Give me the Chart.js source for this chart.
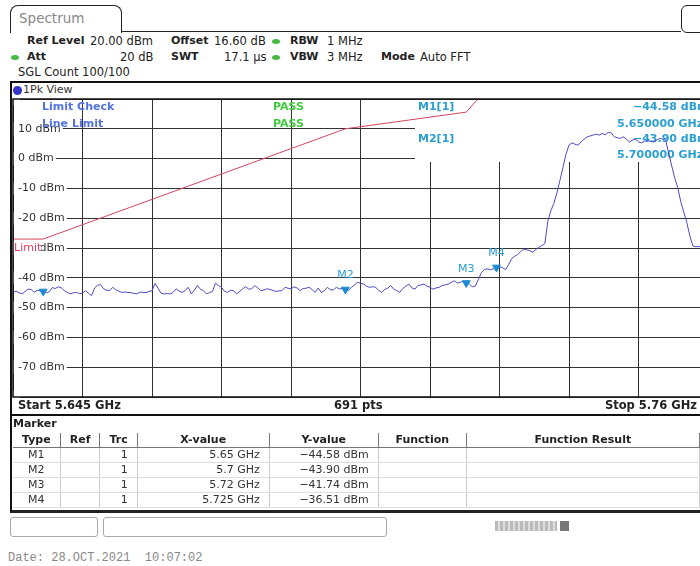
<!DOCTYPE html>
<html lang="en">
<head>
<meta charset="UTF-8">
<title>Spectrum</title>
<script src="https://cdn.jsdelivr.net/npm/chart.js"></script>
<style>
  html, body { margin: 0; padding: 0; background: #fff; overflow: hidden; width: 700px; height: 566px; }
  body { position: relative; font-family: "DejaVu Sans", Verdana, sans-serif; font-size: 11.5px; color: #222; }
  .abs { position: absolute; white-space: nowrap; line-height: 14px; }
  .b { font-weight: bold; font-size: 11px; }
  .dot { position: absolute; width: 8px; height: 5px; border-radius: 50%; background: #46b946; }
  #tab { left: 10px; top: 5px; width: 110px; height: 27px; border: 1.5px solid #222; border-bottom: none; border-radius: 8px 8px 0 0; }
  #tab span { position: absolute; left: 8px; top: 5px; font-size: 13.5px; color: #888; }
  #tabline { left: 121px; top: 31px; width: 560px; border-top: 1.5px solid #222; }
  #icon { left: 681px; top: 5px; width: 30px; height: 26px; border: 1.5px solid #222; border-radius: 6px; }
  #frame { left: 10px; top: 81px; width: 720px; height: 331px; border-top: 2px solid #111; border-left: 2px solid #111; border-bottom: 2px solid #111; }
  #frame2 { left: 10px; top: 414px; width: 720px; height: 96px; border-left: 2px solid #111; border-bottom: 3px solid #222; }
  #wrap { position: absolute; left: 11px; top: 97px; width: 697px; height: 302px; }
  table { position: absolute; left: 13px; top: 433px; border-collapse: collapse; table-layout: fixed; font-size: 11px; }
  th, td { height: 14px; padding: 0 9px; line-height: 14px; white-space: nowrap; }
  th { border-right: 1px solid #777; border-bottom: 1px solid #777; text-align: center; }
  td { border-right: 1px solid #ccc; border-bottom: 1px solid #ddd; text-align: right; color: #333; }
  td.c { text-align: center; }
  .box { position: absolute; top: 517px; height: 18px; border: 1px solid #aaa; border-radius: 3px; }
</style>
</head>
<body>
  <div id="tab" class="abs"><span>Spectrum</span></div>
  <div id="tabline" class="abs"></div>
  <div id="icon" class="abs"></div>

  <!-- instrument settings -->
  <span class="abs b" style="left:27px;top:34px">Ref Level</span>
  <span class="abs" style="left:90px;top:34px">20.00 dBm</span>
  <span class="abs b" style="left:171px;top:34px">Offset</span>
  <span class="abs" style="left:214px;top:34px">16.60 dB</span>
  <div class="dot" style="left:272px;top:39px"></div>
  <span class="abs b" style="left:290px;top:34px">RBW</span>
  <span class="abs" style="left:327px;top:34px">1 MHz</span>

  <div class="dot" style="left:11px;top:55px"></div>
  <span class="abs b" style="left:27px;top:50px">Att</span>
  <span class="abs" style="left:120px;top:50px">20 dB</span>
  <span class="abs b" style="left:171px;top:50px">SWT</span>
  <span class="abs" style="left:224px;top:50px">17.1 µs</span>
  <div class="dot" style="left:272px;top:55px"></div>
  <span class="abs b" style="left:290px;top:50px">VBW</span>
  <span class="abs" style="left:327px;top:50px">3 MHz</span>
  <span class="abs b" style="left:381px;top:50px">Mode</span>
  <span class="abs" style="left:420px;top:50px">Auto FFT</span>

  <span class="abs" style="left:18px;top:65px">SGL Count 100/100</span>

  <div id="frame" class="abs"></div>
  <div class="abs" style="left:13px;top:86px;width:9px;height:9px;border-radius:50%;background:#3434c8"></div>
  <span class="abs" style="left:23px;top:83px;font-size:11px;color:#333">1Pk View</span>

  <div id="wrap"><canvas id="spec"></canvas></div>

  <span class="abs b" style="left:18px;top:398px;font-size:11.5px">Start 5.645 GHz</span>
  <span class="abs b" style="left:334px;top:398px;font-size:11.5px">691 pts</span>
  <span class="abs b" style="right:3px;top:398px;font-size:11.5px">Stop 5.76 GHz</span>

  <div id="frame2" class="abs"></div>
  <span class="abs b" style="left:13px;top:417px">Marker</span>
  <table id="markerTable">
    <colgroup>
      <col style="width:47px"><col style="width:32px"><col style="width:36px">
      <col style="width:140px"><col style="width:112px"><col style="width:90px"><col style="width:250px">
    </colgroup>
    <thead>
      <tr><th>Type</th><th>Ref</th><th>Trc</th><th>X-value</th><th>Y-value</th><th>Function</th><th>Function Result</th></tr>
    </thead>
    <tbody></tbody>
  </table>

  <div class="box" style="left:10px;width:86px"></div>
  <div class="box" style="left:103px;width:282px"></div>
  <div class="abs" style="left:495px;top:521px;width:62px;height:10px;background:repeating-linear-gradient(90deg,#bbb 0 3px,#ddd 3px 5px)"></div>
  <div class="abs" style="left:560px;top:521px;width:9px;height:10px;background:#777"></div>

  <span class="abs" style="left:8px;top:551px;font-family:'Liberation Mono',monospace;font-size:12px;color:#888;white-space:pre">Date: 28.OCT.2021  10:07:02</span>

<script>
// sweep: 5.645 GHz .. 5.76 GHz, trace read every 0.5 MHz
const START_MHZ = 5645;
const STOP_MHZ = 5760;
const STEP_MHZ = 0.5;
const traceDbm = [
  -44.9, -44.5, -45.0, -45.4, -44.6, -43.8, -43.9, -44.9, -44.2, -44.4,
  -44.58, -45.0, -44.7, -43.3, -43.6, -43.0, -43.4, -44.3, -44.9, -45.4,
  -45.0, -44.9, -45.3, -45.2, -44.3, -45.2, -46.0, -43.4, -42.5, -42.3,
  -43.7, -44.2, -44.3, -43.2, -44.0, -44.5, -44.9, -44.8, -44.9, -45.0,
  -45.2, -45.4, -44.8, -44.9, -45.0, -44.6, -44.3, -41.9, -43.5, -45.2,
  -45.4, -45.3, -45.4, -44.9, -43.7, -44.5, -44.9, -44.3, -43.2, -45.4,
  -44.2, -42.6, -43.8, -44.3, -45.4, -45.0, -44.6, -41.8, -42.6, -43.2,
  -44.5, -44.9, -44.2, -44.3, -45.4, -44.6, -43.7, -43.0, -43.8, -43.7,
  -42.6, -43.4, -44.3, -44.1, -43.7, -43.9, -44.2, -44.6, -44.4, -44.3,
  -43.2, -43.5, -43.7, -43.0, -43.4, -44.3, -43.6, -43.5, -43.2, -44.0,
  -44.9, -43.4, -44.9, -44.4, -43.2, -44.0, -44.1, -43.2, -43.7, -43.6,
  -43.9, -44.3, -43.2, -42.4, -41.5, -41.8, -42.1, -42.8, -43.2, -43.0,
  -43.2, -44.2, -44.9, -43.9, -43.5, -42.6, -43.8, -44.3, -44.9, -43.6,
  -42.8, -42.1, -43.4, -43.8, -42.6, -42.4, -42.1, -42.8, -43.2, -43.8,
  -43.4, -43.2, -42.6, -42.4, -42.1, -41.6, -41.0, -41.8, -41.5, -41.2,
  -41.74, -42.1, -43.0, -42.8, -40.6, -38.3, -37.2, -37.0, -37.3, -37.0,
  -36.51, -36.3, -36.6, -37.3, -35.6, -33.6, -32.8, -32.2, -31.2, -30.4,
  -30.6, -30.9, -31.4, -30.5, -29.8, -29.2, -28.5, -21.0, -17.5, -15.0,
  -11.5, -7.3, -3.0, 1.5, 4.5, 5.3, 4.8, 4.5, 5.6, 6.5,
  7.3, 7.6, 7.9, 8.2, 7.9, 8.4, 8.0, 8.8, 8.6, 7.3,
  7.0, 6.8, 7.3, 6.5, 5.6, 6.2, 6.5, 5.6, 5.3, 5.8,
  6.0, 5.8, 5.6, 6.2, 6.8, 6.5, 6.2, 1.7, -2.5, -6.5,
  -9.8, -14.5, -18.0, -21.5, -26.0, -29.3, -29.6, -29.5, -29.7, -29.6,
  -29.7
];

// limit line (MHz / dBm)
const limitMhz = [5645, 5650, 5700, 5720, 5725];
const limitDbm = [-27, -27, 10, 15.6, 27];

// markers
const markerNames = ['M1', 'M2', 'M3', 'M4'];
const markerMhz = [5650, 5700, 5720, 5725];
const markerDbm = [-44.58, -43.90, -41.74, -36.51];
const markerXText = ['5.65 GHz', '5.7 GHz', '5.72 GHz', '5.725 GHz'];

// y axis: ref level 20 dBm, 10 dB/div
const Y_MIN = -80, Y_MAX = 20, Y_STEP = 10;
const X_DIV_MHZ = 11.5;

// canvas sits at page (11, 97)
const OFF_X = 11, OFF_Y = 97;
const CYAN = '#2c9fd2';

// marker table
const tbody = document.querySelector('#markerTable tbody');
markerNames.forEach((name, i) => {
  const row = document.createElement('tr');
  row.innerHTML = `
    <td class="c">${name}</td>
    <td></td>
    <td>1</td>
    <td>${markerXText[i]}</td>
    <td>${markerDbm[i].toFixed(2).replace('-', '\u2212')} dBm</td>
    <td></td>
    <td></td>
  `;
  tbody.appendChild(row);
});

// scales take no room: the plot fills the canvas minus layout padding
function noRoom(s) {
  if (s.isHorizontal()) s.height = 0; else s.width = 0;
  s.paddingTop = 0; s.paddingBottom = 0; s.paddingLeft = 0; s.paddingRight = 0;
}

const overlay = {
  id: 'overlay',
  beforeDatasetsDraw(chart) {
    const { ctx, chartArea: a } = chart;
    ctx.save();
    // marker info box hides the grid behind it
    ctx.fillStyle = '#fff';
    ctx.fillRect(415 - OFF_X, a.top + 1, a.right - (415 - OFF_X), 161 - OFF_Y - a.top);

    ctx.textBaseline = 'middle';
    ctx.textAlign = 'left';
    ctx.font = 'bold 11px "DejaVu Sans"';
    ctx.fillStyle = '#5272e0';
    ctx.fillText('Limit Check', 42 - OFF_X, 107 - OFF_Y);
    ctx.fillText('Line Limit', 42 - OFF_X, 124 - OFF_Y);
    ctx.fillStyle = '#3fcc3f';
    ctx.fillText('PASS', 273 - OFF_X, 107 - OFF_Y);
    ctx.fillText('PASS', 273 - OFF_X, 124 - OFF_Y);

    ctx.fillStyle = CYAN;
    ctx.fillText('M1[1]', 418 - OFF_X, 107 - OFF_Y);
    ctx.fillText('M2[1]', 418 - OFF_X, 139 - OFF_Y);
    ctx.fillText('\u221244.58 dBm', 633 - OFF_X, 107 - OFF_Y);
    ctx.fillText('5.650000 GHz', 617 - OFF_X, 124 - OFF_Y);
    ctx.fillText('\u221243.90 dBm', 633 - OFF_X, 139 - OFF_Y);
    ctx.fillText('5.700000 GHz', 617 - OFF_X, 155 - OFF_Y);

    // limit line label over the -30 dBm tick
    ctx.fillStyle = '#fff';
    ctx.fillRect(a.left + 1, 241 - OFF_Y, 27, 14);
    ctx.fillStyle = '#e0405e';
    ctx.font = '11px "DejaVu Sans"';
    ctx.fillText('Limit', a.left + 1, 248 - OFF_Y);
    ctx.restore();
  },
  afterDatasetsDraw(chart) {
    const { ctx, scales: { x, y } } = chart;
    ctx.save();
    ctx.font = '11px "DejaVu Sans"';
    ctx.fillStyle = CYAN;
    ctx.textAlign = 'center';
    ctx.textBaseline = 'middle';
    markerNames.forEach((name, i) => {
      if (i === 0) return; // M1 label hidden under the -40 dBm label
      ctx.fillText(name, x.getPixelForValue(markerMhz[i]), y.getPixelForValue(markerDbm[i]) - 14);
    });
    ctx.restore();
  },
  afterDraw(chart) {
    const { ctx, chartArea: a } = chart;
    ctx.save();
    ctx.strokeStyle = '#111';
    ctx.lineWidth = 1.5;
    ctx.strokeRect(a.left, a.top, a.right - a.left, a.bottom - a.top);
    ctx.restore();
  }
};

new Chart(document.getElementById('spec'), {
  type: 'line',
  data: {
    datasets: [
      {
        label: 'Trace 1',
        data: traceDbm.map((v, i) => ({ x: START_MHZ + i * STEP_MHZ, y: v })),
        borderColor: '#4c4cc4',
        borderWidth: 1,
        pointRadius: 0,
        tension: 0,
        order: 2
      },
      {
        label: 'Limit',
        data: limitMhz.map((f, i) => ({ x: f, y: limitDbm[i] })),
        borderColor: '#d8455e',
        borderWidth: 1,
        pointRadius: 0,
        tension: 0,
        clip: 0,
        order: 3
      },
      {
        label: 'Markers',
        data: markerMhz.map((f, i) => ({ x: f, y: markerDbm[i] })),
        showLine: false,
        pointStyle: 'triangle',
        rotation: 180,
        pointRadius: 4.5,
        backgroundColor: '#1b8ad2',
        borderColor: '#1b8ad2',
        order: 1
      }
    ]
  },
  options: {
    responsive: true,
    maintainAspectRatio: false,
    animation: false,
    layout: { autoPadding: false, padding: { left: 2, top: 2, right: 0, bottom: 2 } },
    plugins: { legend: { display: false }, tooltip: { enabled: false } },
    scales: {
      x: {
        type: 'linear',
        min: START_MHZ,
        max: STOP_MHZ,
        ticks: { display: false, stepSize: X_DIV_MHZ },
        grid: { color: '#333', lineWidth: 1, drawTicks: false },
        border: { display: false },
        afterFit: noRoom
      },
      y: {
        min: Y_MIN,
        max: Y_MAX,
        ticks: {
          stepSize: Y_STEP,
          mirror: true,
          padding: 5,
          color: '#333',
          font: { family: 'DejaVu Sans', size: 11 },
          showLabelBackdrop: true,
          backdropColor: '#fff',
          backdropPadding: { left: 5, right: 2, top: 0, bottom: 0 },
          callback: v => (v === Y_MAX || v === Y_MIN) ? '' : v + ' dBm'
        },
        grid: { color: '#333', lineWidth: 1, drawTicks: false },
        border: { display: false },
        afterFit: noRoom
      }
    }
  },
  plugins: [overlay]
});
</script>
</body>
</html>
